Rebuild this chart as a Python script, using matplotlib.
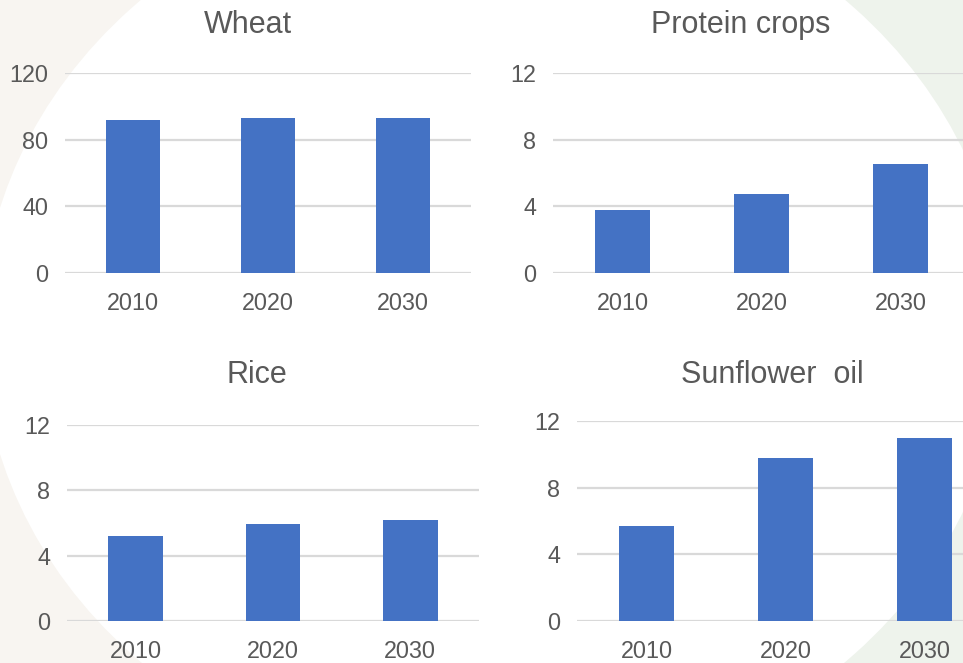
import matplotlib
matplotlib.use("Agg")
import matplotlib.pyplot as plt
from matplotlib.patches import Ellipse, Rectangle

years = ["2010", "2020", "2030"]
wheat = [91.8, 93.0, 93.0]
protein_crops = [3.76, 4.72, 6.52]
rice = [5.19, 5.93, 6.17]
sunflower_oil = [5.68, 9.76, 10.96]

wheat_ticks = [0, 40, 80, 120]
small_ticks = [0, 4, 8, 12]

BAR_COLOR = "#4472c4"
TEXT_COLOR = "#595959"
GRID_COLOR = "#d9d9d9"
FONT = ["Liberation Sans", "DejaVu Sans"]

W, H = 963, 663
fig = plt.figure(figsize=(W / 100, H / 100), dpi=100)

# background: beige / green corners behind a big white ellipse
bg = fig.add_axes([0, 0, 1, 1])
bg.set_xlim(0, W)
bg.set_ylim(H, 0)
bg.axis("off")
bg.add_patch(Rectangle((0, 0), 495, H, color="#f8f5f1", lw=0))
bg.add_patch(Rectangle((495, 0), W - 495, H, color="#eef3ec", lw=0))
bg.add_patch(Ellipse((493, 331), 2 * 512, 2 * 456, color="white", lw=0))


def px_box(x0, x1, y_top, y_bottom):
    return [x0 / W, 1 - y_bottom / H, (x1 - x0) / W, (y_bottom - y_top) / H]


def draw_panel(box, values, ticks, title, title_xy):
    ax = fig.add_axes(px_box(*box))
    ax.set_facecolor("none")
    ax.bar(range(len(years)), values, width=0.4, color=BAR_COLOR, zorder=3)
    ax.set_xlim(-0.5, len(years) - 0.5)
    ax.set_ylim(ticks[0], ticks[-1])
    ax.set_yticks(ticks)
    ax.set_xticks(range(len(years)))
    ax.set_xticklabels(years)
    ax.yaxis.grid(True, color=GRID_COLOR, linewidth=1.6, zorder=0)
    ax.set_axisbelow(True)
    for side in ["top", "right", "left", "bottom"]:
        ax.spines[side].set_visible(False)
    ax.tick_params(axis="both", length=0, labelsize=16.8, labelcolor=TEXT_COLOR)
    ax.tick_params(axis="y", pad=12)
    ax.tick_params(axis="x", pad=14)
    for lab in ax.get_xticklabels() + ax.get_yticklabels():
        lab.set_family(FONT)
    fig.text(title_xy[0] / W, 1 - title_xy[1] / H, title, ha="center",
             va="baseline", fontsize=22, color=TEXT_COLOR, family=FONT)
    return ax


draw_panel((65, 471, 73, 273), wheat, wheat_ticks, "Wheat", (248, 33))
draw_panel((553, 970, 73, 273), protein_crops, small_ticks, "Protein crops", (741, 33))
draw_panel((67, 479, 425, 621), rice, small_ticks, "Rice", (257, 383))
draw_panel((577, 994, 421, 621), sunflower_oil, small_ticks, "Sunflower  oil", (772, 383))

fig.savefig("out.png", dpi=100)
